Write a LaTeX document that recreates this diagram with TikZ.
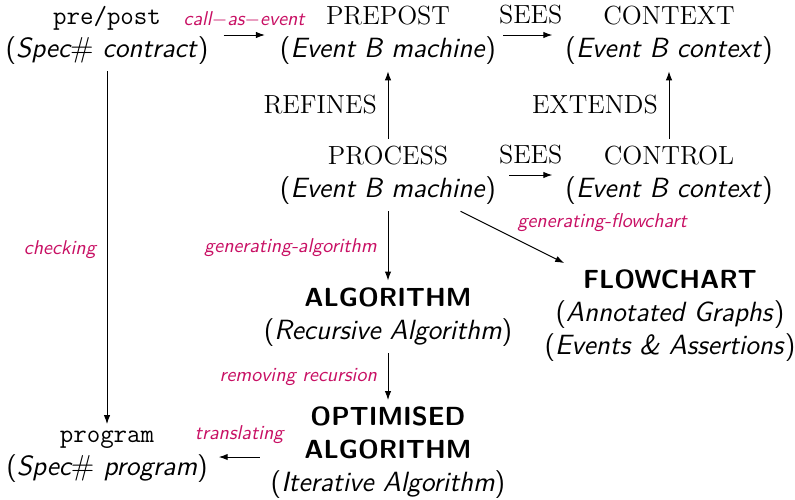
\documentclass[tikz,border=0pt]{standalone}
\usetikzlibrary{arrows.meta}
\definecolor{lblcol}{RGB}{200,16,100}
\newcommand\mysfit[1]{{\fontsize{13.9}{16.5}\selectfont\textsf{(\textit{#1})}}}
\newcommand\mybfsf[1]{\textsf{\bfseries #1}}
\tikzset{
  blk/.style={align=center, font=\fontsize{13.1}{16.5}\selectfont},
  rel/.style={font=\fontsize{13.1}{16}\selectfont},
  lbl/.style={font=\fontsize{10}{12}\selectfont\sffamily\itshape, text=lblcol},
  arr/.style={line width=0.5pt, -{Latex[length=4.5pt,width=3.2pt]}},
}
\begin{document}
\begin{tikzpicture}[x=0.5pt,y=-0.5pt]
\useasboundingbox (0,0) rectangle (795,499);
% components
\node[blk] (pp)   at (107,35)  {\texttt{pre/post}\\\mysfit{Spec$\#$ contract}};
\node[blk] (pre)  at (388,35)  {PREPOST\\\mysfit{Event B machine}};
\node[blk] (ctx)  at (669,35)  {CONTEXT\\\mysfit{Event B context}};
\node[blk] (proc) at (388,175) {PROCESS\\\mysfit{Event B machine}};
\node[blk] (ctl)  at (669,175) {CONTROL\\\mysfit{Event B context}};
\node[blk] (alg)  at (388,317) {\mybfsf{ALGORITHM}\\\mysfit{Recursive Algorithm}};
\node[blk] (flow) at (670,316) {\mybfsf{FLOWCHART}\\\mysfit{Annotated Graphs}\\\mysfit{Events \& Assertions}};
\node[blk] (opt)  at (388,453) {\mybfsf{OPTIMISED}\\\mybfsf{ALGORITHM}\\\mysfit{Iterative Algorithm}};
\node[blk] (prog) at (107,457) {\texttt{program}\\\mysfit{Spec$\#$ program}};
% relations
\draw[arr, shorten <=4pt, shorten >=4pt] (pp) -- node[lbl, above=0.5pt] {call$-$as$-$event} (pre);
\draw[arr, shorten >=3pt] (pre) -- node[rel, above=2pt] {SEES} (ctx);
\draw[arr, shorten <=3pt, shorten >=3pt] (proc) -- node[rel, above=2pt] {SEES} (ctl);
\draw[arr] (proc) -- node[rel, left=2pt] {REFINES} (pre);
\draw[arr] (ctl) -- node[rel, left=2pt] {EXTENDS} (ctx);
\draw[arr] (proc) -- node[lbl, left=2pt, yshift=-1pt] {generating-algorithm} (alg);
\draw[arr] (proc) -- node[lbl, pos=0.5, anchor=south west, xshift=-1pt, yshift=-1pt] {generating-flowchart} (flow);
\draw[arr] (alg) -- node[lbl, left=2pt] {removing recursion} (opt);
\draw[arr] (pp) -- node[lbl, left=2pt, yshift=-1pt] {checking} (prog);
\draw[arr, shorten <=2pt, shorten >=2pt] (opt.west |- prog.east) -- node[lbl, above=3pt] {translating} (prog.east);
\end{tikzpicture}
\end{document}
